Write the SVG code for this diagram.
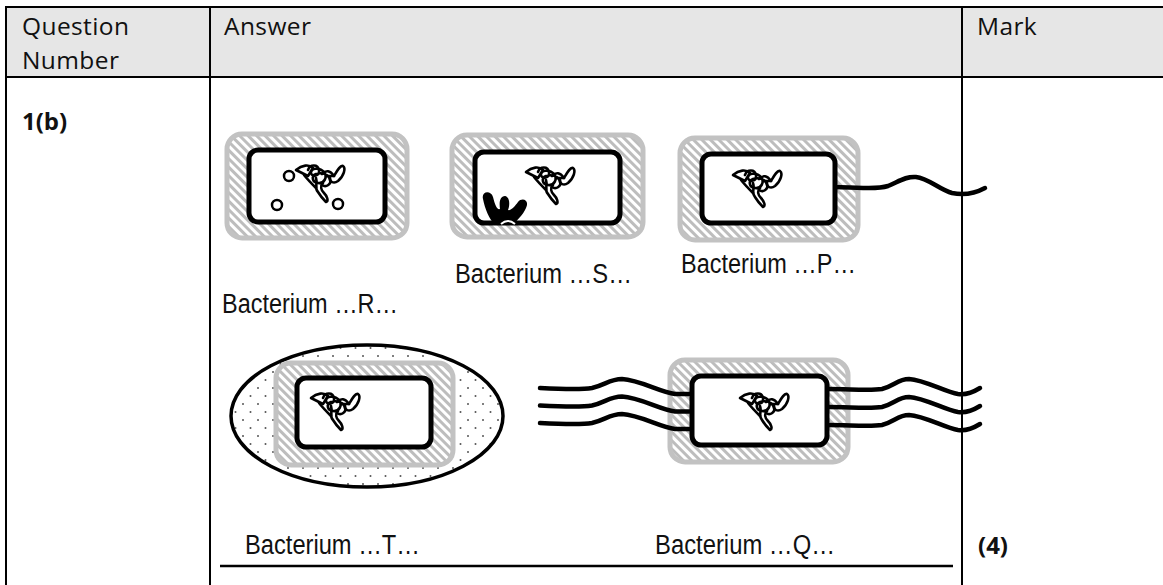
<svg xmlns="http://www.w3.org/2000/svg" xmlns:xlink="http://www.w3.org/1999/xlink" width="1163" height="585" viewBox="0 0 1163 585">
<style>
.grid{stroke:#000;stroke-width:2;fill:none}
.hdr{font-family:"Open Sans","Noto Sans",sans-serif;font-size:24.5px;letter-spacing:0.4px;fill:#111}
.qn{font-family:"Open Sans","Noto Sans",sans-serif;font-size:24px;font-weight:bold;fill:#111}
.lbl{font-family:"Liberation Sans Narrow","Liberation Sans",Arial,sans-serif;font-size:27px;fill:#111}
.capsule{fill:url(#hatch);stroke:#c2c2c2;stroke-width:5}
.cell{fill:#fff;stroke:#000;stroke-width:5}
.dna{fill:none;stroke:#000;stroke-width:2.6;stroke-linecap:round;stroke-linejoin:round}
.gran{fill:#fff;stroke:#000;stroke-width:2.5}
.flag{fill:none;stroke:#000;stroke-width:4.5;stroke-linecap:round}
.slime{fill:url(#dots);stroke:#000;stroke-width:3.5}
</style>
<defs>
<pattern id="hatch" patternUnits="userSpaceOnUse" width="6" height="6" patternTransform="rotate(-45)">
<rect width="6" height="6" fill="#fff"/>
<rect width="3" height="6" fill="#bdbdbd"/>
</pattern>
<pattern id="dots" patternUnits="userSpaceOnUse" width="15" height="16">
<rect width="15" height="16" fill="#fff"/>
<circle cx="3" cy="4" r="1" fill="#555"/>
<circle cx="10.5" cy="12" r="1" fill="#555"/>
</pattern>
<g id="dna">
<path class="dna" d="M0,6 C6,1 13,0 17,4 L12,12 C8,10 4,8 0,6 Z"/>
<path class="dna" d="M12,6 C14,0 22,0 23,6 C24,12 16,14 15,9 C14,4 24,3 28,8 C32,13 28,20 22,19 C16,18 15,12 20,10 C26,8 32,10 34,15 C36,20 30,24 26,21"/>
<path class="dna" d="M20,14 C22,20 18,24 22,28 C25,33 28,36 30,38 C33,37 31,32 28,29 C25,26 24,22 27,19"/>
<path class="dna" d="M30,12 L38,12 C41,7 44,1 47,2 C50,4 48,12 42,17 C38,20 33,18 34,14"/>
<path class="dna" d="M8,11 C12,16 16,20 20,24"/>
<path class="dna" d="M26,10 C30,6 34,6 38,12"/>
</g>
</defs>

<g id="table">
<rect x="6" y="7" width="1157" height="70" fill="#e6e6e6"/>
<line class="grid" x1="5" y1="7" x2="1163" y2="7"/>
<line class="grid" x1="5" y1="77" x2="1163" y2="77"/>
<line class="grid" x1="6" y1="7" x2="6" y2="585"/>
<line class="grid" x1="210" y1="7" x2="210" y2="585"/>
<line class="grid" x1="962" y1="7" x2="962" y2="585"/>
<text class="hdr" x="22" y="35">Question</text>
<text class="hdr" x="22" y="69">Number</text>
<text class="hdr" x="224" y="35">Answer</text>
<text class="hdr" x="977" y="35">Mark</text>
<text class="qn" x="22" y="130">1(b)</text>
<text class="qn" x="978" y="554">(4)</text>
<line x1="220" y1="566" x2="953" y2="566" stroke="#000" stroke-width="2.5"/>
</g>

<g id="connectors"></g>

<g id="bacterium-R">
<rect class="capsule" x="227" y="134" width="180" height="104" rx="15"/>
<rect class="cell" x="249" y="150" width="136" height="72" rx="9"/>
<circle class="gran" cx="289" cy="176" r="5"/>
<circle class="gran" cx="277" cy="205" r="5"/>
<circle class="gran" cx="338" cy="204" r="5"/>
<use xlink:href="#dna" href="#dna" transform="translate(296,164)"/>
<text class="lbl" x="222" y="313" textLength="176" lengthAdjust="spacingAndGlyphs">Bacterium …R…</text>
</g>

<g id="bacterium-S">
<rect class="capsule" x="452" y="135" width="191" height="102" rx="15"/>
<rect class="cell" x="475" y="152" width="145" height="71" rx="9"/>
<use xlink:href="#dna" href="#dna" transform="translate(526,166)"/>
<path d="M483,199 C481,191 491,190 493,197 C495,205 497,210 500,209 C499,202 500,196 505,196 C510,197 510,205 508,210 C511,211 515,206 518,202 C522,197 530,200 526,208 C523,215 517,220 513,225 L495,225 C489,219 485,209 483,199 Z" fill="#000"/>
<path d="M501,224 Q508,218 515,224" fill="none" stroke="#fff" stroke-width="2"/>
<text class="lbl" x="455" y="283" textLength="177" lengthAdjust="spacingAndGlyphs">Bacterium …S…</text>
</g>

<g id="bacterium-P">
<rect class="capsule" x="680" y="138" width="178" height="102" rx="15"/>
<path class="flag" d="M836,187 C860,188 878,189 888,186 C898,182 906,176 916,177 C928,178 940,190 952,193 C962,195 972,195 985,188"/>
<rect class="cell" x="702" y="154" width="133" height="69" rx="9"/>
<use xlink:href="#dna" href="#dna" transform="translate(733,169)"/>
<text class="lbl" x="681" y="273" textLength="175" lengthAdjust="spacingAndGlyphs">Bacterium …P…</text>
</g>

<g id="bacterium-T">
<ellipse class="slime" cx="367" cy="416" rx="136" ry="71"/>
<rect class="capsule" x="276" y="363" width="177" height="102" rx="15"/>
<rect class="cell" x="297" y="378" width="134" height="69" rx="9"/>
<use xlink:href="#dna" href="#dna" transform="translate(311,392)"/>
<text class="lbl" x="245" y="554" textLength="175" lengthAdjust="spacingAndGlyphs">Bacterium …T…</text>
</g>

<g id="bacterium-Q">
<rect class="capsule" x="670" y="360" width="178" height="102" rx="15"/>
<path class="flag" d="M540,388 C560,389 580,390 592,388 C605,385 610,379 622,379 C640,380 660,392 675,394 L692,394"/>
<path class="flag" d="M540,405.5 C560,406.5 580,407.5 592,405.5 C605,402.5 610,396.5 622,396.5 C640,397.5 660,409.5 675,411.5 L692,411.5"/>
<path class="flag" d="M540,423 C560,424 580,425 592,423 C605,420 610,414 622,414 C640,415 660,427 675,429 L692,429"/>
<path class="flag" d="M827,389 C850,389 870,391 882,389 C894,386 898,379 909,379 C925,380 945,392 958,394 C966,395 972,393 980,388"/>
<path class="flag" d="M827,407 C850,407 870,409 882,407 C894,404 898,397 909,397 C925,398 945,410 958,412 C966,413 972,411 980,406"/>
<path class="flag" d="M827,425 C850,425 870,427 882,425 C894,422 898,415 909,415 C925,416 945,428 958,430 C966,431 972,429 980,424"/>
<rect class="cell" x="692" y="376" width="135" height="69" rx="9"/>
<use xlink:href="#dna" href="#dna" transform="translate(740,392)"/>
<text class="lbl" x="655" y="554" textLength="180" lengthAdjust="spacingAndGlyphs">Bacterium …Q…</text>
</g>
</svg>
